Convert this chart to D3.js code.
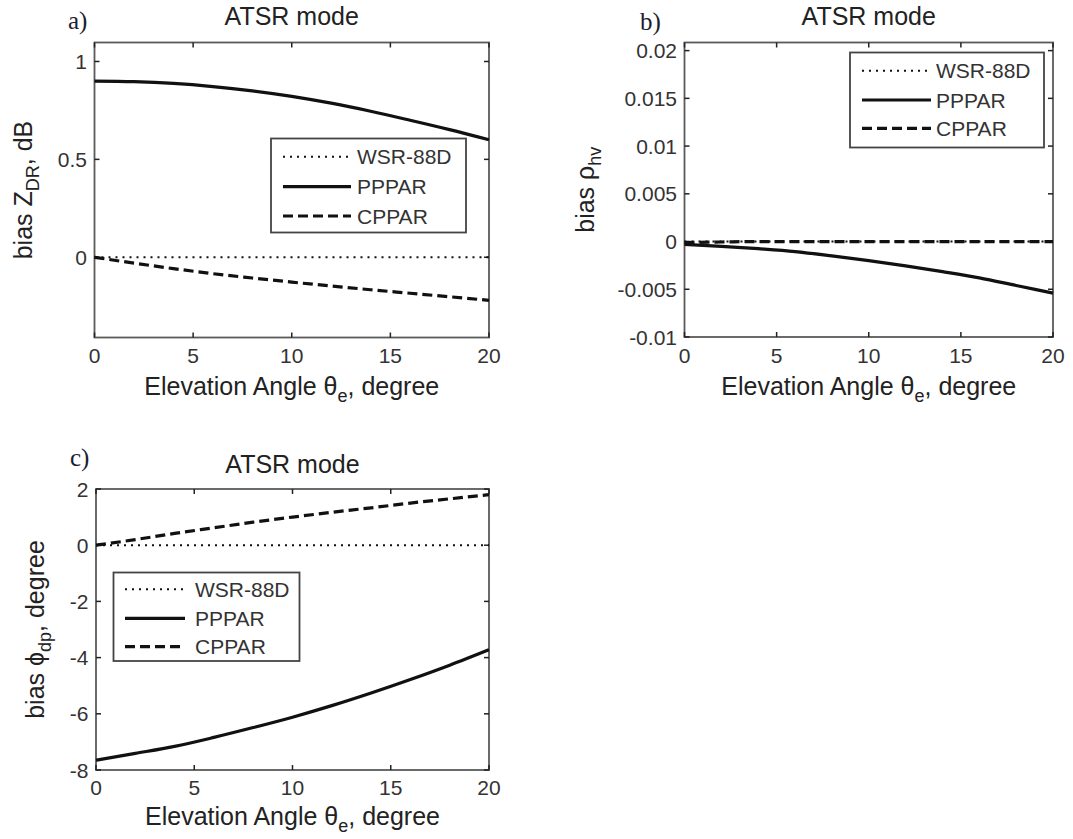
<!DOCTYPE html>
<html><head><meta charset="utf-8">
<script src="https://cdn.jsdelivr.net/npm/d3@7"></script>
<style>body{margin:0;background:#fff} svg{display:block}</style>
</head><body><svg id="c" width="1073" height="839"></svg>
<script>
// ---- data ----
const elevation = [0,2,4,6,8,10,12,14,16,18,20];
const seriesNames = ["WSR-88D","PPPAR","CPPAR"];
const zdrWSR   = [0,0,0,0,0,0,0,0,0,0,0];
const zdrPPPAR = [0.900,0.897,0.888,0.872,0.850,0.822,0.787,0.746,0.700,0.652,0.600];
const zdrCPPAR = [0,-0.030,-0.058,-0.084,-0.106,-0.127,-0.147,-0.166,-0.184,-0.202,-0.220];
const rhoWSR   = [0,0,0,0,0,0,0,0,0,0,0];
const rhoPPPAR = [-0.0003,-0.0005,-0.00075,-0.00105,-0.0015,-0.0020,-0.00255,-0.00315,-0.0038,-0.0046,-0.0054];
const rhoCPPAR = [-0.0001,-0.00005,0,0,0,0,0,0,0,0,0];
const phiWSR   = [0,0,0,0,0,0,0,0,0,0,0];
const phiPPPAR = [-7.65,-7.41,-7.16,-6.84,-6.49,-6.12,-5.71,-5.26,-4.78,-4.27,-3.72];
const phiCPPAR = [0,0.20,0.42,0.62,0.82,1.00,1.17,1.33,1.50,1.65,1.80];
const xTicks = [0,5,10,15,20];
const zdrTicks = [0,0.5,1];
const zdrTickLabels = ["0","0.5","1"];
const rhoTicks = [-0.01,-0.005,0,0.005,0.01,0.015,0.02];
const rhoTickLabels = ["-0.01","-0.005","0","0.005","0.01","0.015","0.02"];
const phiTicks = [-8,-6,-4,-2,0,2];
const phiTickLabels = ["-8","-6","-4","-2","0","2"];
const panelLetters = ["a)","b)","c)"];
const titleText = "ATSR mode";

// ---- drawing ----
const svg = d3.select("#c");
const SANS = "'Liberation Sans', Arial, sans-serif";
const SERIF = "'Liberation Serif', 'Times New Roman', serif";
const styles = [
  {dash:"2,5", width:2},
  {dash:null, width:3.2},
  {dash:"10,5", width:3.2}
];

const panels = [
  {letter:panelLetters[0], lx:68, ly:29, box:{l:94.5,r:489,t:42.5,b:337.5}, ydom:[-0.41,1.097],
   yt:zdrTicks, ytl:zdrTickLabels, series:[zdrWSR,zdrPPPAR,zdrCPPAR],
   ylab:["bias Z","DR",", dB"], ylabX:32, titleY:25, xtY:363, xlY:395,
   leg:{x:271,y:138.5,w:195,h:94,l1:283,l2:351,tx:357,rows:[156.7,186.7,216]}},
  {letter:panelLetters[1], lx:640, ly:30, box:{l:684.5,r:1053,t:42.5,b:337}, ydom:[-0.01,0.02085],
   yt:rhoTicks, ytl:rhoTickLabels, series:[rhoWSR,rhoPPPAR,rhoCPPAR],
   ylab:["bias ρ","hv",""], ylabX:594, titleY:25, xtY:363, xlY:395,
   leg:{x:850,y:52.5,w:194,h:95,l1:862,l2:931,tx:936,rows:[70.7,100,128.3]}},
  {letter:panelLetters[2], lx:70, ly:466, box:{l:96,r:489,t:489,b:770}, ydom:[-8,2],
   yt:phiTicks, ytl:phiTickLabels, series:[phiWSR,phiPPPAR,phiCPPAR],
   ylab:["bias ϕ","dp",", degree"], ylabX:44, titleY:472.7, xtY:795, xlY:825,
   leg:{x:113.5,y:572.5,w:186,h:88.5,l1:125,l2:185,tx:195,rows:[589.3,618.3,646.7]}}
];

panels.forEach(p => {
  const B = p.box;
  const x = d3.scaleLinear().domain([0,20]).range([B.l,B.r]);
  const y = d3.scaleLinear().domain(p.ydom).range([B.b,B.t]);
  const g = svg.append("g");

  g.append("text").attr("x",p.lx).attr("y",p.ly).attr("font-family",SERIF)
    .attr("font-size",25).attr("fill","#1c1c30").text(p.letter);
  g.append("text").attr("x",(B.l+B.r)/2).attr("y",p.titleY).attr("text-anchor","middle")
    .attr("font-family",SANS).attr("font-size",25).attr("fill","#222").text(titleText);

  g.append("rect").attr("x",B.l).attr("y",B.t).attr("width",B.r-B.l).attr("height",B.b-B.t)
    .attr("fill","none").attr("stroke","#5a5a5a").attr("stroke-width",1.8);

  xTicks.forEach(v => {
    const xx = x(v);
    g.append("line").attr("x1",xx).attr("x2",xx).attr("y1",B.b).attr("y2",B.b-5).attr("stroke","#222").attr("stroke-width",1.5);
    g.append("line").attr("x1",xx).attr("x2",xx).attr("y1",B.t).attr("y2",B.t+5).attr("stroke","#222").attr("stroke-width",1.5);
    g.append("text").attr("x",xx).attr("y",p.xtY).attr("text-anchor","middle")
      .attr("font-family",SANS).attr("font-size",21).attr("fill","#333").text(String(v));
  });
  p.yt.forEach((v,i) => {
    const yy = y(v);
    g.append("line").attr("x1",B.l).attr("x2",B.l+5).attr("y1",yy).attr("y2",yy).attr("stroke","#222").attr("stroke-width",1.5);
    g.append("line").attr("x1",B.r).attr("x2",B.r-5).attr("y1",yy).attr("y2",yy).attr("stroke","#222").attr("stroke-width",1.5);
    g.append("text").attr("x",B.l-7.5).attr("y",yy).attr("dy","0.36em").attr("text-anchor","end")
      .attr("font-family",SANS).attr("font-size",21).attr("fill","#333").text(p.ytl[i]);
  });

  const xl = g.append("text").attr("x",(B.l+B.r)/2).attr("y",p.xlY).attr("text-anchor","middle")
    .attr("font-family",SANS).attr("font-size",25).attr("fill","#222");
  xl.append("tspan").text("Elevation Angle θ");
  xl.append("tspan").attr("dy",7).attr("font-size",18).text("e");
  xl.append("tspan").attr("dy",-7).text(", degree");

  const yl = g.append("text").attr("transform",`translate(${p.ylabX},${(B.t+B.b)/2}) rotate(-90)`)
    .attr("text-anchor","middle").attr("font-family",SANS).attr("font-size",25).attr("fill","#222");
  yl.append("tspan").text(p.ylab[0]);
  yl.append("tspan").attr("dy",7).attr("font-size",18).text(p.ylab[1]);
  if (p.ylab[2]) yl.append("tspan").attr("dy",-7).text(p.ylab[2]);

  const line = d3.line().x((d,i)=>x(elevation[i])).y(d=>y(d)).curve(d3.curveMonotoneX);
  p.series.forEach((s,k) => {
    g.append("path").datum(s).attr("d",line).attr("fill","none").attr("stroke","#111")
      .attr("stroke-width",styles[k].width).attr("stroke-dasharray",styles[k].dash);
  });

  const L = p.leg;
  g.append("rect").attr("x",L.x).attr("y",L.y).attr("width",L.w).attr("height",L.h)
    .attr("fill","#fff").attr("stroke","#444").attr("stroke-width",1.8);
  seriesNames.forEach((n,k) => {
    const ry = L.rows[k];
    g.append("line").attr("x1",L.l1).attr("x2",L.l2).attr("y1",ry).attr("y2",ry)
      .attr("stroke","#111").attr("stroke-width",styles[k].width).attr("stroke-dasharray",styles[k].dash);
    g.append("text").attr("x",L.tx).attr("y",ry).attr("dy","0.36em")
      .attr("font-family",SANS).attr("font-size",21).attr("fill","#333").text(n);
  });
});
</script>
</body></html>
